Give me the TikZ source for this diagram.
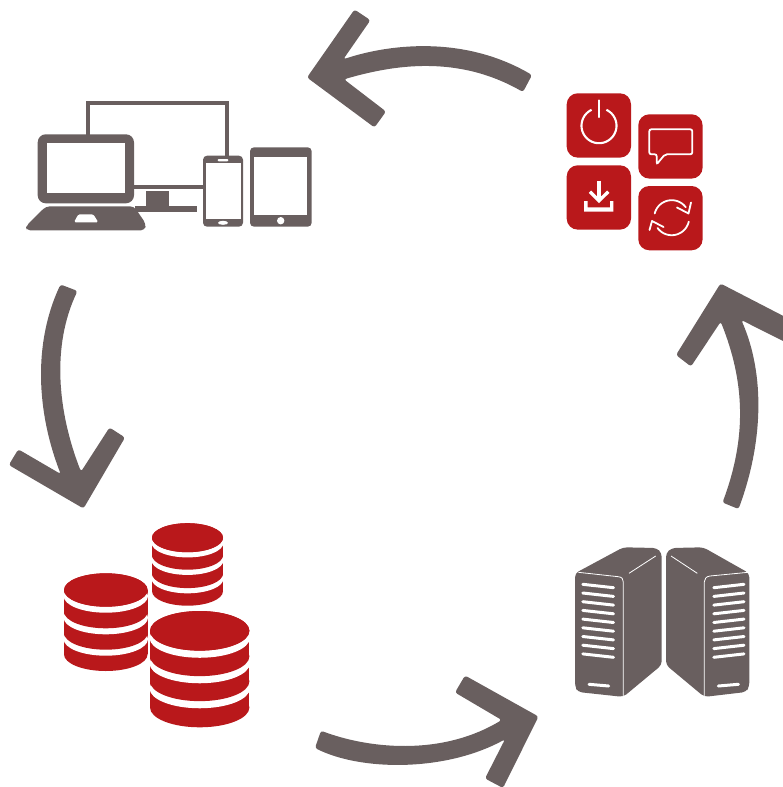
\documentclass[tikz,border=0pt]{standalone}
\definecolor{gr}{HTML}{695F5F}
\definecolor{rd}{HTML}{B9181B}
% centre x, x radius, y radius, top centre, bottom centre, then the three gaps, lowest first
\newcommand{\dbstack}[8]{%
 \fill[rd] ({#1-#2},#4) rectangle ({#1+#2},#5);
 \fill[rd] (#1,#5) ellipse [x radius=#2, y radius=#3];
 \foreach \cc in {#6,#7,#8}{
  \fill[white] (#1,{\cc+#3*.18}) ellipse [x radius=#2+.4, y radius=#3];
  \fill[rd] ({#1-#2},#4) rectangle ({#1+#2},{\cc-#3*.18});
  \fill[rd] (#1,{\cc-#3*.18}) ellipse [x radius=#2, y radius=#3];
 }
 \fill[rd] (#1,#4) ellipse [x radius=#2, y radius=#3];
}
\newcommand{\rbox}[2]{\fill[rd,rounded corners=11pt] (#1,#2) rectangle ++(64.3,64.3);}
\begin{document}
\begin{tikzpicture}[x=1pt,y=-1pt,
 arrowbody/.style={fill=gr,rounded corners=2.6pt},
 wl/.style={draw=white,line width=2.1pt},
 wt/.style={draw=white,line width=1.8pt},
 slot/.style={draw=white,line width=3pt,line cap=round}]
\useasboundingbox (0,0) rectangle (783,787);
\clip (0,0) rectangle (783,787);
% arrows
\path[arrowbody] (307,77.5) -- (354.5,9.5) -- (370.4,20.2) -- (343.3,59.3)
  .. controls (383,46) and (460,33) .. (532,75) -- (523,92)
  .. controls (457.7,54.7) and (394,64.8) .. (344,79.3) -- (386,111.5) -- (374.5,127.5) -- cycle;
\path[arrowbody] (69,287.7) -- (77.5,291)
  .. controls (52,345) and (57,410) .. (81,471.7) -- (109.5,427.5) -- (125,437.5) -- (83.5,508.5)
  -- (8.8,465) -- (18.3,449.3) -- (60.7,474)
  .. controls (36.7,412) and (33,343.7) .. (60.5,284.5) -- cycle;
\path[arrowbody] (321,730.7) .. controls (367,748) and (440,757) .. (501.7,720)
  -- (455,692.5) -- (465,675.5) -- (538.5,716.5) -- (503,788) -- (485,778.5) -- (505,739.3)
  .. controls (445,772) and (361,771) .. (315,748) -- cycle;
\path[arrowbody] (720.5,283.5) -- (795,322) -- (795,347) -- (741.3,320)
  .. controls (765.3,375) and (763,442.7) .. (738.5,509) -- (722.5,502.5)
  .. controls (747,436.7) and (744.7,381.7) .. (720.7,321.7) -- (691,366.5) -- (676,355) -- cycle;
% monitor
\draw[gr,line width=3.6pt] (88,136) -- (88,102.7) -- (226.7,102.7) -- (226.7,157);
\fill[gr] (134,185) rectangle (204,188.7);
\fill[gr] (145.7,191) rectangle (169,206.7);
\fill[gr] (135,205.7) rectangle (196.7,212.3);
% laptop
\fill[gr,rounded corners=8pt] (37.7,134.3) rectangle (134,203.3);
\fill[white] (47.3,143.3) rectangle (124.7,193.3);
\fill[gr,rounded corners=4pt] (46,206.3) -- (134,206.3) -- (146,224) -- (145,230.3) -- (26,230.3) -- (26,226) -- cycle;
\fill[white,rounded corners=1.5pt] (78.3,214.3) -- (93.3,214.3) -- (98.3,222.3) -- (74,222.3) -- cycle;
% phone
\fill[gr,rounded corners=4pt] (203,155.7) rectangle (243,226.7);
\fill[white] (205.7,162.7) rectangle (241.3,219);
\fill[white,rounded corners=1pt] (217.7,159) rectangle (228.3,161.3);
\fill[white] (223,222.8) ellipse [x radius=5, y radius=2];
% tablet
\fill[gr,rounded corners=4pt] (250,147.3) rectangle (311.7,226.7);
\fill[white] (254.3,157.3) rectangle (307.3,215);
\fill[white] (280.7,220.7) circle [radius=3.7];
% red tiles
\rbox{566.7}{93.3}
\rbox{638.3}{114.3}
\rbox{566.7}{165.3}
\rbox{638.3}{186}
% power
\draw[wl] plot[domain=115:425,samples=60] ({599+17.5*cos(\x)},{125.7-17.5*sin(\x)});
\draw[wl,line cap=round] (599,100.5) -- (599,117);
% speech
\draw[wt,rounded corners=2pt,line join=miter] (665,154.3) -- (656.7,164.3) -- (656.7,154.3) -- (649.3,154.3) -- (649.3,129.3) -- (692.3,129.3) -- (692.3,154.3) -- cycle;
% download
\fill[white] (584,201) -- (587.7,201) -- (587.7,207.3) -- (610,207.3) -- (610,201) -- (613.3,201) -- (613.3,211.7) -- (584,211.7) -- cycle;
\draw[white,line width=3.3pt] (599,180.7) -- (599,199);
\draw[white,line width=3.3pt] (590,191.7) -- (599,200.7) -- (608.3,191.7);
% refresh
\draw[wt,line cap=round] plot[domain=166:37,samples=40] ({671.7+17.5*cos(\x)},{217.7-17.5*sin(\x)});
\draw[wt,line cap=round] plot[domain=-13:-144,samples=40] ({671.7+17.5*cos(\x)},{217.7-17.5*sin(\x)});
\draw[wt,line cap=round,line join=round] (677,207.5) -- (688.5,213.5) -- (691,202.5);
\draw[wt,line cap=round,line join=round] (649.5,230) -- (652,221) -- (663.5,227);
% databases
\dbstack{187.5}{35.5}{14.5}{537.7}{591.2}{576.2}{557.8}{540.3}
\dbstack{105.8}{41.8}{16.7}{590}{654.3}{636}{614.6}{593}
\dbstack{199.7}{49.7}{19.8}{630.8}{707.5}{684.9}{659.9}{634.4}
% servers
\fill[gr,rounded corners=4pt] (575,573.3) -- (623.3,547.3) -- (656.7,548) -- (661.7,553) -- (661.7,665) -- (623.3,696.9) -- (578,692) -- (575,686.7) -- cycle;
\fill[gr,rounded corners=4pt] (749.3,573.3) -- (703.3,547.3) -- (671.7,548) -- (666,553) -- (666,665) -- (704.3,696.9) -- (746,692) -- (749.3,686.7) -- cycle;
\draw[white,line width=.8pt] (578.3,572.3) -- (618.3,576.7) .. controls (622,577) and (623.3,579) .. (623.3,582) -- (623.3,696.7);
\draw[white,line width=.8pt] (629,573.3) -- (655.7,556);
\draw[white,line width=.8pt] (748.3,572.3) -- (710,576) .. controls (706,576.5) and (704.3,579) .. (704.3,582) -- (704.3,696.7);
\draw[white,line width=.8pt] (671,556) -- (697.3,573.3);
\foreach \i in {0,...,8}{
 \draw[slot] (582.8,{584.3+8.7*\i}) -- (613.5,{587.7+8.7*\i});
 \draw[slot] (713.8,{587.7+8.7*\i}) -- (744,{584.3+8.7*\i});
}
\draw[slot] (589,684.3) -- (608.7,686);
\draw[slot] (718.3,686) -- (738.5,684.3);
\end{tikzpicture}
\end{document}
